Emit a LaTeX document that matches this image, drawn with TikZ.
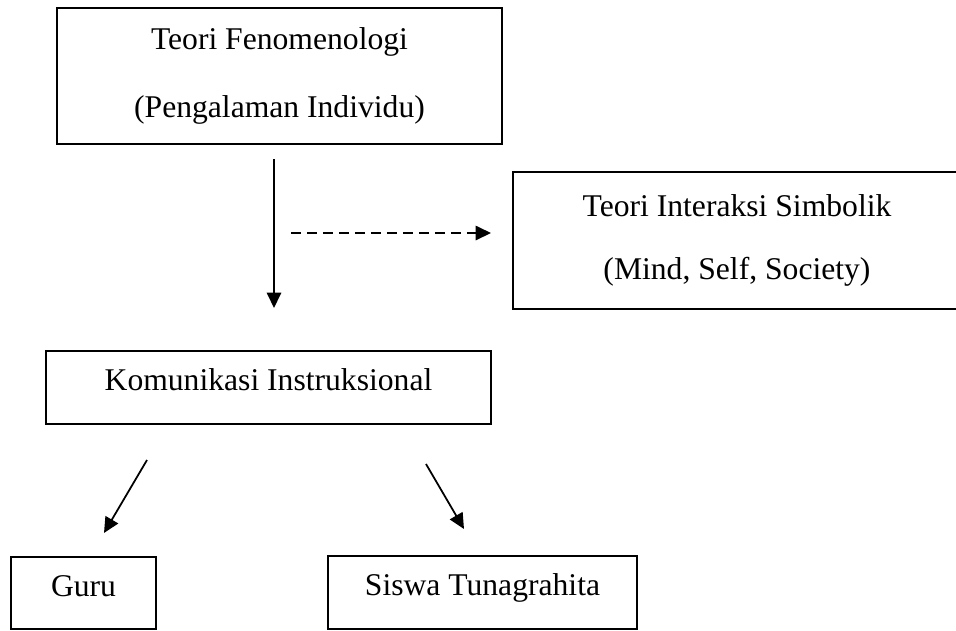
\documentclass[tikz,border=0pt]{standalone}
\usepackage{fontspec}
\setmainfont{Liberation Serif}
\usetikzlibrary{arrows.meta}

\begin{document}
\begin{tikzpicture}[x=0.02cm, y=-0.02cm, >={Triangle[width=0.29cm, length=0.31cm]},
    box/.style={draw, line width=1pt, inner sep=0pt, align=center},
    onerow/.style={box, minimum height=1.45cm, text height=0.8em, text depth=0.45em},
    link/.style={->, line width=1pt}]
    \useasboundingbox (0,0) rectangle (956,630);

    \node[box, minimum width=8.9cm, minimum height=2.72cm, font=\fontsize{18}{39}\selectfont] (fenomenologi) at (279.5,76)
        {Teori Fenomenologi\\(Pengalaman Individu)};
    \node[box, minimum width=8.96cm, minimum height=2.74cm, font=\fontsize{18}{36}\selectfont] (simbolik) at (737,240.5)
        {Teori Interaksi Simbolik\\(Mind, Self, Society)};
    \node[onerow, minimum width=8.9cm, font=\fontsize{18}{22}\selectfont] (komunikasi) at (268.5,387.5) {Komunikasi Instruksional};
    \node[onerow, minimum width=2.9cm, font=\fontsize{18}{22}\selectfont] (guru) at (83.5,593) {Guru};
    \node[onerow, minimum width=6.18cm, font=\fontsize{18}{22}\selectfont] (siswa) at (482.5,592.5) {Siswa Tunagrahita};

    \coordinate (fenout) at (274,159);
    \coordinate (komin) at (274,308);
    \coordinate (dashstart) at (291,233);
    \coordinate (simin) at (491,233);
    \coordinate (guruout) at (147,460);
    \coordinate (guruin) at (104,533);
    \coordinate (siswaout) at (426,464);
    \coordinate (siswain) at (464,529);

    \draw[link] (fenout) -- (komin);
    \draw[link, dash pattern=on 0.2cm off 0.12cm] (dashstart) -- (simin);
    \draw[link] (guruout) -- (guruin);
    \draw[link] (siswaout) -- (siswain);
\end{tikzpicture}
\end{document}
